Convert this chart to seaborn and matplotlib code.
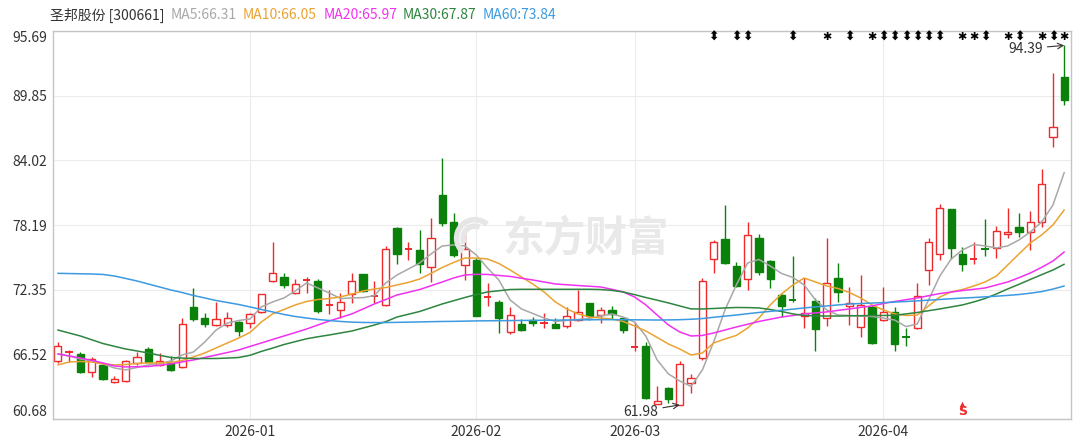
import matplotlib
matplotlib.use('Agg')
import matplotlib.pyplot as plt
from matplotlib.patches import Arc
import numpy as np
import pandas as pd
import seaborn as sns

# header
stock_name = '圣邦股份 [300661]'
header_ma = ['MA5:66.31', 'MA10:66.05', 'MA20:65.97', 'MA30:67.87', 'MA60:73.84']

# daily candles (90 trading days, mid Dec 2025 .. late Apr 2026)
opens = [65.97, 66.70, 66.57, 64.95, 65.55, 64.02, 64.13, 65.73, 67.05, 65.58,
         65.73, 65.37, 70.81, 69.79, 69.18, 69.18, 69.43, 69.34, 70.38, 73.18,
         73.54, 72.10, 73.20, 73.15, 70.92, 70.54, 71.95, 73.75, 71.80, 70.96,
         77.90, 76.00, 75.95, 74.39, 80.90, 78.44, 74.59, 75.04, 71.70, 71.28,
         68.58, 69.30, 69.63, 69.30, 69.27, 69.09, 69.63, 71.14, 70.08, 70.54,
         69.79, 67.20, 67.32, 62.10, 63.53, 61.98, 63.93, 66.18, 75.11, 76.91,
         74.53, 73.30, 77.06, 74.95, 71.89, 71.50, 69.99, 71.35, 69.79, 73.39,
         70.90, 68.98, 70.83, 69.63, 70.38, 68.15, 68.89, 74.14, 75.56, 79.62,
         75.59, 75.15, 76.08, 76.10, 77.39, 78.05, 77.54, 78.50, 86.11, 91.57]
highs = [67.68, 66.93, 66.72, 66.32, 65.60, 64.58, 66.00, 66.77, 67.23, 66.63,
         66.41, 69.79, 72.55, 70.29, 71.28, 70.38, 69.50, 70.29, 72.00, 76.64,
         73.84, 73.30, 73.54, 73.30, 72.34, 72.10, 73.90, 73.80, 73.15, 76.33,
         78.05, 76.64, 77.75, 78.80, 84.27, 79.31, 77.75, 75.25, 72.94, 71.44,
         70.78, 69.72, 69.93, 70.29, 69.79, 70.76, 72.34, 71.20, 70.78, 70.90,
         69.85, 69.48, 67.68, 63.68, 63.62, 65.94, 64.76, 73.45, 76.85, 80.00,
         74.89, 78.44, 77.36, 75.00, 72.00, 75.41, 73.45, 71.59, 77.00, 74.75,
         72.58, 73.69, 71.00, 72.58, 70.83, 68.94, 72.94, 77.00, 80.09, 79.65,
         76.24, 76.69, 78.74, 78.11, 79.71, 79.31, 79.49, 83.22, 91.88, 94.39]
lows = [65.78, 65.82, 64.85, 64.52, 64.20, 63.98, 64.00, 65.60, 65.80, 65.50,
        65.06, 65.30, 69.57, 69.03, 69.10, 69.00, 68.22, 68.89, 70.24, 73.10,
        72.55, 72.00, 72.04, 70.29, 70.18, 69.79, 71.20, 72.20, 71.20, 70.90,
        74.68, 75.04, 73.90, 73.09, 78.14, 75.34, 73.24, 69.95, 70.90, 68.49,
        68.37, 68.60, 69.09, 68.90, 68.90, 68.89, 69.50, 69.63, 69.34, 69.70,
        68.49, 66.87, 62.50, 62.05, 62.18, 61.98, 63.02, 66.00, 73.90, 74.68,
        72.64, 72.34, 73.69, 72.49, 69.93, 71.26, 68.94, 66.84, 69.09, 71.28,
        69.18, 68.13, 67.47, 69.55, 66.84, 67.29, 68.80, 72.79, 75.04, 75.11,
        74.05, 74.68, 75.41, 75.20, 77.00, 77.09, 75.95, 78.05, 85.21, 89.00]
closes = [67.29, 66.75, 64.92, 66.09, 64.34, 64.29, 65.91, 66.32, 65.85, 65.96,
          65.13, 69.27, 69.75, 69.27, 69.75, 69.84, 68.64, 70.18, 71.95, 73.84,
          72.79, 72.85, 73.25, 70.45, 70.97, 71.28, 73.15, 72.25, 71.85, 76.04,
          75.59, 76.05, 74.68, 77.00, 78.35, 75.50, 76.04, 70.02, 71.75, 69.79,
          70.08, 68.73, 69.34, 69.36, 68.94, 70.00, 70.33, 69.99, 70.54, 70.18,
          68.73, 67.25, 62.57, 62.35, 62.51, 65.64, 64.43, 73.15, 76.69, 74.80,
          72.73, 77.30, 73.99, 73.33, 70.90, 71.42, 70.29, 68.80, 72.94, 72.19,
          71.14, 70.99, 67.59, 70.38, 67.44, 68.10, 71.83, 76.69, 79.76, 76.10,
          74.68, 75.20, 76.00, 77.66, 77.60, 77.60, 78.44, 81.90, 87.06, 89.47]

# moving averages as drawn on the chart
ma5 = [66.57, 66.39, 66.12, 65.94, 65.67, 65.31, 65.13, 65.35, 65.58, 65.71,
       65.94, 66.48, 66.75, 67.65, 68.73, 69.36, 69.59, 69.72, 70.81, 71.26,
       71.62, 72.25, 72.97, 72.52, 72.07, 71.57, 71.62, 71.65, 71.83, 72.97,
       73.69, 74.23, 74.77, 75.59, 76.31, 76.40, 76.31, 75.50, 74.32, 73.24,
       71.44, 70.63, 70.22, 69.81, 69.50, 69.59, 69.68, 69.77, 69.99, 70.18,
       69.90, 69.45, 68.19, 66.03, 64.77, 64.13, 63.64, 65.13, 67.65, 70.54,
       72.79, 74.77, 75.09, 74.50, 73.83, 73.47, 72.79, 71.44, 70.54, 70.08,
       70.04, 69.99, 69.95, 69.81, 69.63, 69.04, 69.27, 71.44, 73.60, 75.13,
       75.95, 76.44, 76.31, 76.13, 76.31, 76.85, 77.57, 78.47, 80.00, 82.93]
ma10 = [65.58, 65.85, 65.89, 65.85, 65.67, 65.58, 65.62, 65.71, 65.76, 65.76,
        65.80, 65.98, 66.30, 66.66, 67.11, 67.56, 68.01, 68.51, 69.45, 70.18,
        70.58, 70.99, 71.30, 71.48, 71.57, 71.71, 71.98, 72.25, 72.43, 72.56,
        72.79, 73.02, 73.33, 73.83, 74.37, 74.82, 75.22, 75.22, 75.13, 74.73,
        74.14, 73.51, 72.88, 72.16, 71.26, 70.63, 70.18, 69.90, 69.81, 69.72,
        69.50, 69.09, 68.64, 68.06, 67.47, 67.02, 66.48, 66.66, 67.56, 67.92,
        68.24, 68.91, 69.81, 70.99, 71.98, 72.79, 73.42, 73.06, 72.70, 72.47,
        72.11, 71.62, 70.99, 70.54, 70.18, 70.04, 70.08, 70.90, 71.71, 72.16,
        72.38, 72.70, 73.06, 73.60, 74.59, 75.59, 76.58, 77.30, 78.20, 79.56]
ma20 = [66.57, 66.39, 66.21, 65.99, 65.76, 65.49, 65.40, 65.42, 65.44, 65.55,
        65.67, 65.85, 66.03, 66.25, 66.48, 66.70, 66.93, 67.25, 67.56, 67.88,
        68.19, 68.50, 68.82, 69.18, 69.54, 69.86, 70.18, 70.63, 71.08, 71.48,
        71.89, 72.13, 72.38, 72.72, 73.06, 73.42, 73.69, 73.75, 73.74, 73.65,
        73.56, 73.40, 73.24, 73.06, 72.88, 72.81, 72.74, 72.68, 72.61, 72.40,
        72.16, 71.71, 70.99, 70.08, 69.18, 68.55, 68.19, 68.24, 68.46, 68.73,
        69.00, 69.25, 69.50, 69.70, 69.90, 70.04, 70.18, 70.27, 70.36, 70.50,
        70.63, 70.77, 70.90, 71.12, 71.30, 71.46, 71.62, 71.82, 72.02, 72.15,
        72.29, 72.40, 72.52, 72.79, 73.06, 73.45, 73.87, 74.38, 74.95, 75.77]
ma30 = [68.73, 68.46, 68.19, 67.85, 67.51, 67.26, 67.02, 66.84, 66.66, 66.45,
        66.25, 66.20, 66.16, 66.16, 66.16, 66.20, 66.25, 66.45, 66.80, 67.10,
        67.42, 67.68, 67.94, 68.12, 68.28, 68.46, 68.64, 68.91, 69.18, 69.48,
        69.90, 70.15, 70.40, 70.74, 71.08, 71.37, 71.66, 71.93, 72.16, 72.27,
        72.38, 72.40, 72.40, 72.40, 72.40, 72.40, 72.40, 72.40, 72.38, 72.30,
        72.16, 71.92, 71.66, 71.42, 71.17, 70.90, 70.63, 70.63, 70.67, 70.72,
        70.76, 70.75, 70.72, 70.58, 70.40, 70.18, 70.04, 70.00, 69.99, 69.99,
        70.01, 70.02, 70.04, 70.04, 70.06, 70.18, 70.31, 70.47, 70.63, 70.81,
        70.99, 71.26, 71.57, 71.98, 72.43, 72.85, 73.29, 73.72, 74.14, 74.66]
ma60 = [73.84, 73.82, 73.80, 73.78, 73.74, 73.60, 73.38, 73.15, 72.88, 72.61,
        72.34, 72.11, 71.84, 71.62, 71.39, 71.21, 71.03, 70.81, 70.58, 70.36,
        70.13, 69.95, 69.81, 69.68, 69.59, 69.50, 69.44, 69.41, 69.40, 69.40,
        69.42, 69.44, 69.46, 69.48, 69.50, 69.51, 69.53, 69.55, 69.56, 69.57,
        69.58, 69.59, 69.60, 69.61, 69.62, 69.63, 69.64, 69.65, 69.66, 69.66,
        69.66, 69.65, 69.64, 69.63, 69.64, 69.66, 69.70, 69.76, 69.88, 69.98,
        70.08, 70.20, 70.31, 70.41, 70.51, 70.61, 70.72, 70.81, 70.90, 70.99,
        71.08, 71.12, 71.16, 71.20, 71.25, 71.30, 71.36, 71.42, 71.48, 71.55,
        71.61, 71.66, 71.72, 71.78, 71.85, 71.93, 72.05, 72.19, 72.42, 72.70]

# axis labels
date_ticks = [17, 37, 51, 73]
date_labels = ['2026-01', '2026-02', '2026-03', '2026-04']
ytick_labels = ['60.68', '66.52', '72.35', '78.19', '84.02', '89.85', '95.69']

# signal marks along the top
arrow_marks = [58, 60, 61, 65, 70, 73, 74, 75, 76, 77, 78, 82, 85, 88]
star_marks = [68, 72, 80, 81, 84, 87, 89]
s_mark = 80

up_color = '#ee2a2a'
down_color = '#0b800b'
ma_colors = {'MA5': '#a8a8a8', 'MA10': '#eaa332', 'MA20': '#f032f0',
             'MA30': '#2e8540', 'MA60': '#3b9ae0'}

sns.set_theme(style='white')
plt.rcParams['font.family'] = ['Noto Sans CJK SC', 'DejaVu Sans']

fig = plt.figure(figsize=(10.8, 4.46), dpi=100)
ax = fig.add_axes([0.0491, 0.0599, 0.9426, 0.8706])

# candles
w = 0.64
for i, (o, h, l, c) in enumerate(zip(opens, highs, lows, closes)):
    up = c >= o
    col = up_color if up else down_color
    ax.vlines(i, l, h, color=col, lw=1, zorder=2)
    if abs(c - o) < 0.09:
        ax.hlines((o + c) / 2, i - w / 2, i + w / 2, color=col, lw=1.4, zorder=2.5)
    else:
        ax.bar(i, abs(c - o), bottom=min(o, c), width=w,
               facecolor='white' if up else col, edgecolor=col, linewidth=1, zorder=2.5)

# moving averages
ma_df = pd.DataFrame({'idx': np.arange(len(closes)), 'MA5': ma5, 'MA10': ma10,
                      'MA20': ma20, 'MA30': ma30, 'MA60': ma60})
ma_long = ma_df.melt(id_vars='idx', var_name='ma', value_name='value')
sns.lineplot(data=ma_long, x='idx', y='value', hue='ma', palette=ma_colors,
             linewidth=1.1, legend=False, ax=ax, zorder=3)

ax.set_xlim(-0.42, 89.6)
ax.set_ylim(60.68, 95.69)
ax.set_xticks(date_ticks)
ax.set_xticklabels(date_labels)
ax.set_yticks([float(t) for t in ytick_labels])
ax.set_yticklabels(ytick_labels)
ylabels = ax.get_yticklabels()
ylabels[0].set_va('bottom')
ylabels[-1].set_va('top')
ax.tick_params(length=0, pad=4, labelsize=10, colors='#333333')
ax.set_xlabel('')
ax.set_ylabel('')
ax.grid(True, color='#ececec', lw=0.8)
ax.set_axisbelow(True)
for sp in ax.spines.values():
    sp.set_color('#c4c4c4')
    sp.set_linewidth(1)

# high / low annotations
hi_i = int(np.argmax(highs))
lo_i = int(np.argmin(lows))
ax.annotate(f'{highs[hi_i]:.2f}', xy=(hi_i, highs[hi_i]), xytext=(hi_i - 1.9, highs[hi_i] - 0.3),
            ha='right', va='center', fontsize=10, color='#333333',
            arrowprops=dict(arrowstyle='->', color='#333333', lw=0.8, shrinkA=1, shrinkB=0))
ax.annotate(f'{lows[lo_i]:.2f}', xy=(lo_i, lows[lo_i]), xytext=(lo_i - 1.9, lows[lo_i] - 0.6),
            ha='right', va='center', fontsize=10, color='#333333',
            arrowprops=dict(arrowstyle='->', color='#333333', lw=0.8, shrinkA=1, shrinkB=0))

# top signal marks
trans = ax.get_xaxis_transform()
for i in arrow_marks:
    ax.text(i, 0.984, '⬍', transform=trans, ha='center', va='center',
            fontsize=9, fontweight='bold', color='black', family=['DejaVu Sans'])
for i in star_marks:
    ax.text(i, 0.984, '✱', transform=trans, ha='center', va='center',
            fontsize=8, color='black', family=['DejaVu Sans'])

# buy/sell mark near the bottom
ax.text(s_mark, 0.004, 'S', transform=trans, ha='center', va='bottom',
        fontsize=9, color=up_color, fontweight='bold', family=['DejaVu Sans'], zorder=5)
ax.scatter([s_mark], [0.039], marker='^', s=16, color=up_color, transform=trans,
           zorder=5, linewidths=0)
ax.vlines(s_mark, 0.027, 0.036, color=up_color, lw=1.2, transform=trans, zorder=5)

# watermark
ax.text(0.5236, 0.467, '东方财富', transform=ax.transAxes, ha='center', va='center',
        fontsize=30, fontweight='bold', color='#e9e9e9', zorder=1)
for th1, th2, r in [(70, 250, 0.034), (80, 230, 0.022)]:
    fig.patches.append(Arc((475 / 1080, 1 - 238 / 446), r, r * 1080 / 446, theta1=th1, theta2=th2,
                           transform=fig.transFigure, color='#e6e6e6', lw=4))

# header line
fig.text(50 / 1080, 1 - 15 / 446, stock_name, ha='left', va='center', fontsize=10, color='#333333')
header_x = [171, 243, 324, 403, 483]
for txt, xpx, key in zip(header_ma, header_x, ma_colors):
    fig.text(xpx / 1080, 1 - 15 / 446, txt, ha='left', va='center', fontsize=10, color=ma_colors[key])

fig.savefig('out.png', dpi=100)
